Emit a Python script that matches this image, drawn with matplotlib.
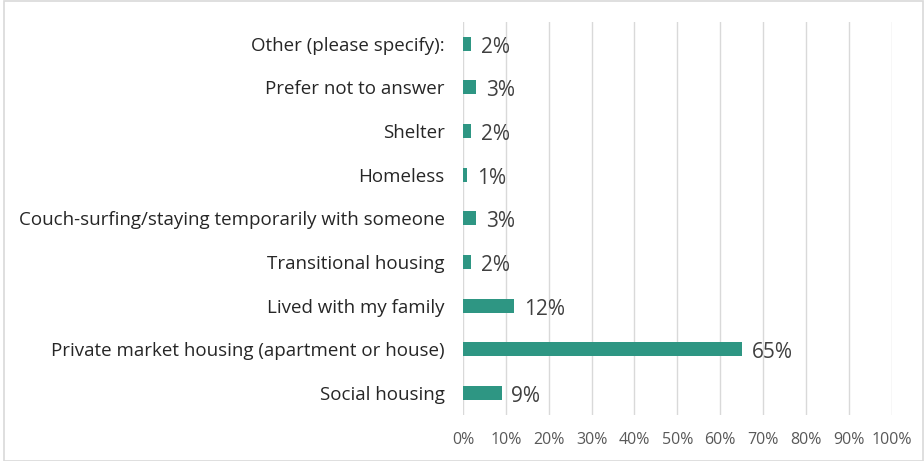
import matplotlib
matplotlib.use("Agg")
import matplotlib.pyplot as plt
from matplotlib.patches import Rectangle

categories = [
    "Other (please specify):",
    "Prefer not to answer",
    "Shelter",
    "Homeless",
    "Couch-surfing/staying temporarily with someone",
    "Transitional housing",
    "Lived with my family",
    "Private market housing (apartment or house)",
    "Social housing",
]
values = [2, 3, 2, 1, 3, 2, 12, 65, 9]
x_ticks = [0, 10, 20, 30, 40, 50, 60, 70, 80, 90, 100]

plt.rcParams['font.family'] = ['Open Sans', 'DejaVu Sans']

fig = plt.figure(figsize=(9.24, 4.61), dpi=100)
ax = fig.add_axes([0.501, 0.0998, 0.464, 0.853])

ypos = list(range(len(categories)))
ax.barh(ypos, values, height=0.32, color="#2E9683", zorder=3)
for y, v in zip(ypos, values):
    ax.text(v + 2.3, y + 0.08, f"{v}%", va="center", ha="left",
            fontsize=15, color="#404040")

ax.set_ylim(len(categories) - 0.5, -0.5)
ax.set_xlim(0, 100)
ax.set_yticks(ypos)
ax.set_yticklabels(categories, fontsize=13.5, color="#262626")
ax.set_xticks(x_ticks)
ax.set_xticklabels([f"{t}%" for t in x_ticks], fontsize=11.5, color="#595959")
ax.tick_params(axis="both", length=0)
ax.tick_params(axis="y", pad=13)
ax.tick_params(axis="x", pad=12)
ax.grid(axis="x", color="#D9D9D9", linewidth=1, zorder=0)
for s in ax.spines.values():
    s.set_visible(False)

fig.patches.append(Rectangle((0.004, 0.0), 0.995, 0.998, transform=fig.transFigure,
                             fill=False, edgecolor="#D9D9D9", linewidth=1.2))

fig.savefig("out.png", dpi=100)
